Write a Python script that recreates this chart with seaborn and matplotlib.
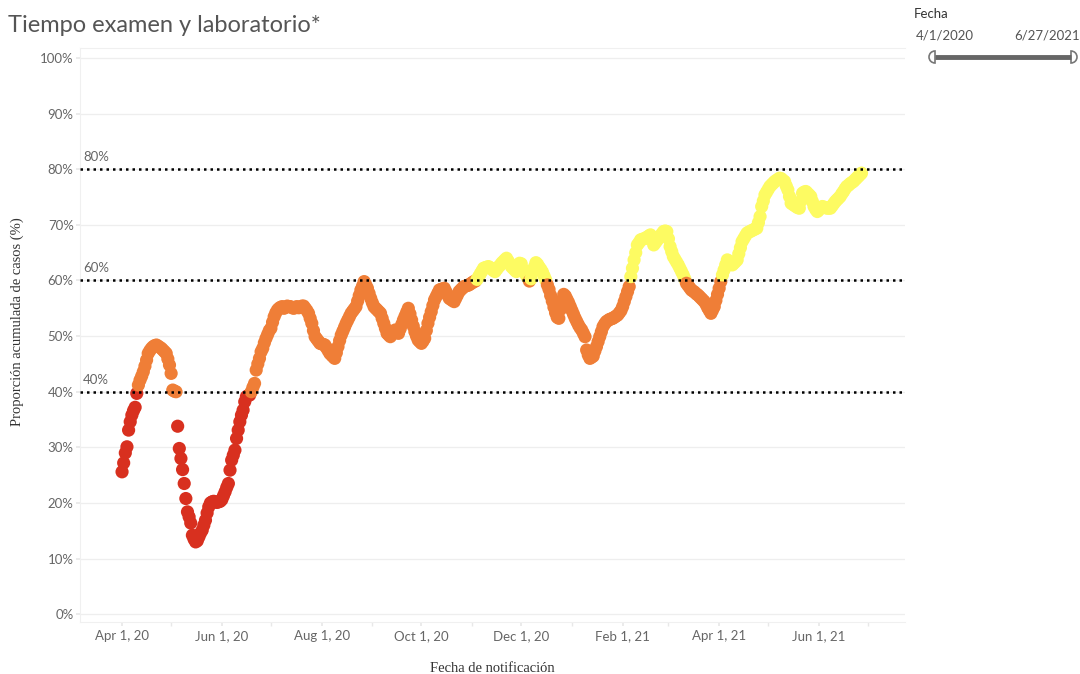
import numpy as np
import pandas as pd
import matplotlib
matplotlib.use("Agg")
import matplotlib.pyplot as plt
import matplotlib.dates as mdates
from matplotlib.patches import Wedge
import seaborn as sns

# proporcion acumulada diaria (%), desde el 1 de abril de 2020
abr_20 = [25.6, 27.2, 29.0, 30.1, 33.1, 34.6, 35.8, 36.6, 37.2, 39.7,
          41.2, 42.1, 42.8, 43.6, 44.6, 45.7, 46.9, 47.4, 47.8, 48.1,
          48.3, 48.4, 48.2, 48.0, 47.8, 47.5, 47.2, 46.9, 45.9, 44.8]
may_20 = [43.3, 40.3, 40.1, 40.0, 33.8, 29.8, 28.0, 26.0, 23.5, 20.8,
          18.4, 17.5, 16.4, 14.2, 13.5, 13.0, 13.2, 13.9, 14.6, 15.1,
          16.0, 16.9, 18.2, 19.3, 20.0, 20.2, 20.3, 20.2, 20.1, 20.2,
          20.3]
jun_20 = [20.6, 21.3, 22.0, 22.8, 23.5, 25.9, 27.7, 28.6, 29.5, 31.6,
          33.1, 34.6, 35.8, 36.7, 38.2, 39.1, 39.3, 39.4, 40.0, 40.8,
          41.5, 43.9, 45.0, 46.0, 47.2, 47.8, 48.8, 49.6, 50.3, 51.0]
jul_20 = [51.4, 52.5, 53.5, 54.2, 54.7, 55.0, 55.2, 55.3, 55.0, 55.2,
          55.4, 55.3, 55.3, 55.1, 55.0, 55.2, 55.3, 55.1, 55.2, 55.4,
          55.4, 55.0, 54.6, 54.1, 53.2, 52.3, 51.0, 49.9, 49.5, 49.1,
          48.7]
ago_20 = [48.6, 48.5, 48.4, 47.9, 47.4, 46.9, 46.6, 46.3, 46.0, 47.0,
          48.1, 49.2, 50.2, 50.9, 51.6, 52.3, 52.9, 53.5, 54.1, 54.5,
          54.9, 55.3, 56.3, 57.3, 58.3, 59.0, 59.8, 59.2, 58.6, 57.7,
          56.8]
sep_20 = [56.0, 55.3, 55.0, 54.7, 54.4, 54.1, 53.2, 52.3, 51.4, 50.5,
          50.2, 49.9, 50.3, 50.7, 51.1, 50.8, 50.5, 51.3, 52.1, 52.9,
          53.6, 54.3, 55.0, 54.0, 52.9, 51.8, 50.8, 50.0, 49.3, 49.0]
oct_20 = [48.7, 49.1, 49.6, 51.0, 52.3, 53.4, 54.4, 55.5, 56.5, 57.1,
          57.7, 58.3, 58.4, 58.5, 58.6, 58.0, 57.4, 56.8, 56.6, 56.4,
          56.2, 56.8, 57.4, 58.0, 58.3, 58.6, 58.9, 59.0, 59.1, 59.2,
          59.4]
nov_20 = [59.6, 59.8, 59.9, 60.2, 60.7, 61.2, 61.7, 62.2, 62.3, 62.4,
          62.5, 62.3, 62.1, 61.8, 61.6, 62.0, 62.4, 62.7, 63.1, 63.4,
          63.7, 64.0, 63.5, 63.0, 62.5, 62.2, 61.9, 61.6, 62.4, 63.1]
dic_20 = [63.0, 62.0, 61.5, 61.0, 60.5, 59.9, 60.3, 61.5, 62.4, 63.2,
          62.9, 62.4, 62.0, 61.5, 60.8, 60.1, 59.2, 58.4, 57.3, 56.3,
          55.2, 54.2, 53.4, 53.2, 54.8, 56.5, 57.5, 57.2, 56.6, 56.0,
          55.3]
ene_21 = [54.6, 53.9, 53.2, 52.6, 52.0, 51.5, 51.1, 50.5, 49.9, 47.5,
          46.6, 46.0, 46.2, 46.4, 47.3, 48.1, 49.0, 49.9, 50.8, 51.7,
          52.2, 52.6, 52.8, 53.0, 53.1, 53.2, 53.4, 53.6, 53.8, 54.2,
          54.6]
feb_21 = [55.3, 56.2, 57.1, 58.0, 58.9, 60.7, 62.2, 63.7, 65.0, 66.4,
          66.8, 67.3, 67.4, 67.5, 67.6, 67.8, 68.0, 68.2, 67.3, 66.4,
          66.8, 67.2, 67.6, 68.0, 68.4, 68.8, 68.9, 68.8]
mar_21 = [67.5, 66.1, 65.2, 64.3, 63.8, 63.3, 62.8, 62.2, 61.6, 61.0,
          60.3, 59.5, 59.1, 58.7, 58.3, 58.1, 57.9, 57.6, 57.4, 57.1,
          56.8, 56.5, 56.2, 55.7, 55.1, 54.6, 54.1, 54.7, 55.3, 56.4,
          57.5]
abr_21 = [58.6, 59.8, 61.0, 61.9, 62.8, 63.7, 63.4, 63.1, 62.8, 63.1,
          63.4, 63.7, 64.8, 65.9, 67.0, 67.5, 68.0, 68.5, 68.7, 68.8,
          69.0, 69.1, 69.3, 69.4, 70.4, 71.5, 73.3, 74.3, 75.4, 75.9]
may_21 = [76.4, 76.9, 77.2, 77.5, 77.8, 78.0, 78.2, 78.4, 78.3, 78.0,
          77.8, 77.0, 76.3, 75.1, 73.9, 73.7, 73.5, 73.3, 73.1, 73.0,
          74.3, 75.7, 75.9, 76.0, 75.7, 75.4, 75.1, 74.2, 73.3, 72.8,
          72.4]
jun_21 = [72.7, 73.0, 73.3, 73.2, 73.1, 73.0, 73.0, 73.0, 73.4, 73.8,
          74.2, 74.5, 74.8, 75.1, 75.6, 76.0, 76.5, 76.9, 77.1, 77.4,
          77.6, 77.8, 78.1, 78.4, 78.7, 79.0, 79.3]

valores = (abr_20 + may_20 + jun_20 + jul_20 + ago_20 + sep_20 + oct_20 +
           nov_20 + dic_20 + ene_21 + feb_21 + mar_21 + abr_21 + may_21 + jun_21)

umbrales = [40, 60, 80]
niveles = ["bajo", "medio", "alto"]
colores = {"bajo": "#d8301f", "medio": "#ef7e37", "alto": "#fdfb62"}

fechas = pd.date_range("2020-04-01", periods=len(valores), freq="D")
df = pd.DataFrame({"fecha": fechas, "valor": valores})
df["nivel"] = np.where(df["valor"] < 40, "bajo",
                       np.where(df["valor"] < 60, "medio", "alto"))

sns.set_theme(style="white")
plt.rcParams["font.family"] = ["Lato", "DejaVu Sans"]

fig = plt.figure(figsize=(10.8, 6.74), dpi=100)
ax = fig.add_axes([80 / 1080, 1 - 622 / 674, 825 / 1080, 574 / 674])

sns.scatterplot(data=df, x="fecha", y="valor", hue="nivel", hue_order=niveles,
                palette=colores, s=90, linewidth=0, legend=False, ax=ax, zorder=2)

for u in umbrales:
    ax.axhline(u, color="black", ls=(0, (1, 1.6)), lw=1.8, zorder=3)
    ax.text(0.004, u + 1.1, f"{u}%", transform=ax.get_yaxis_transform(),
            ha="left", va="bottom", fontsize=9.5, color="#666666")

ax.set_ylim(-1.4, 101.8)
ax.set_yticks(range(0, 101, 10))
ax.yaxis.set_major_formatter(lambda v, p: f"{v:.0f}%")
ax.set_xlim(pd.Timestamp("2020-04-01") - pd.Timedelta(days=25.7),
            pd.Timestamp("2020-04-01") + pd.Timedelta(days=478.6))
ax.xaxis.set_major_locator(mdates.MonthLocator(bymonth=[2, 4, 6, 8, 10, 12]))
ax.xaxis.set_minor_locator(mdates.MonthLocator())
ax.xaxis.set_major_formatter(
    lambda v, p: (lambda d: f"{d:%b} {d.day}, {d:%y}")(mdates.num2date(v)))

ax.yaxis.grid(True, color="#eeeeee", lw=0.9)
ax.set_axisbelow(True)
ax.tick_params(axis="x", which="both", length=3, color="#e8e8e8",
               labelcolor="#666666", labelsize=9.5, pad=3, bottom=True)
ax.tick_params(axis="y", length=3, color="#e8e8e8", labelcolor="#666666",
               labelsize=9.5, pad=1.5, left=True)
ax.set_xlabel("")
ax.set_ylabel("")
for lado in ["left", "bottom", "top"]:
    ax.spines[lado].set_color("#f0f0f0")
    ax.spines[lado].set_linewidth(0.8)
ax.spines["right"].set_visible(False)

# textos y control de fechas, en pixeles de la figura
ov = fig.add_axes([0, 0, 1, 1], zorder=-1)
ov.set_xlim(0, 1080)
ov.set_ylim(674, 0)
ov.axis("off")
ov.patch.set_alpha(0)

ov.text(8, 25, "Tiempo examen y laboratorio*", fontsize=17, color="#555555",
        ha="left", va="center")
ov.text(17, 322, "Proporción acumulada de casos (%)", rotation=90, ha="center",
        va="center", fontsize=10.5, color="#333333", family="Liberation Serif")
ov.text(492, 668, "Fecha de notificación", ha="center", va="center",
        fontsize=10.5, color="#333333", family="Liberation Serif")

ov.text(914, 14, "Fecha", ha="left", va="center", fontsize=9.5, color="#333333")
ov.text(945, 36, "4/1/2020", ha="center", va="center", fontsize=9.5, color="#555555")
ov.text(1047, 36, "6/27/2021", ha="center", va="center", fontsize=9.5, color="#555555")
ov.plot([935, 1071], [57, 57], color="#666666", lw=3.5, solid_capstyle="butt")
ov.add_patch(Wedge((935, 57), 6, 90, 270, facecolor="white", edgecolor="#777777", lw=1.2))
ov.add_patch(Wedge((1071, 57), 6, -90, 90, facecolor="white", edgecolor="#777777", lw=1.2))

fig.savefig("out.png", dpi=100)
